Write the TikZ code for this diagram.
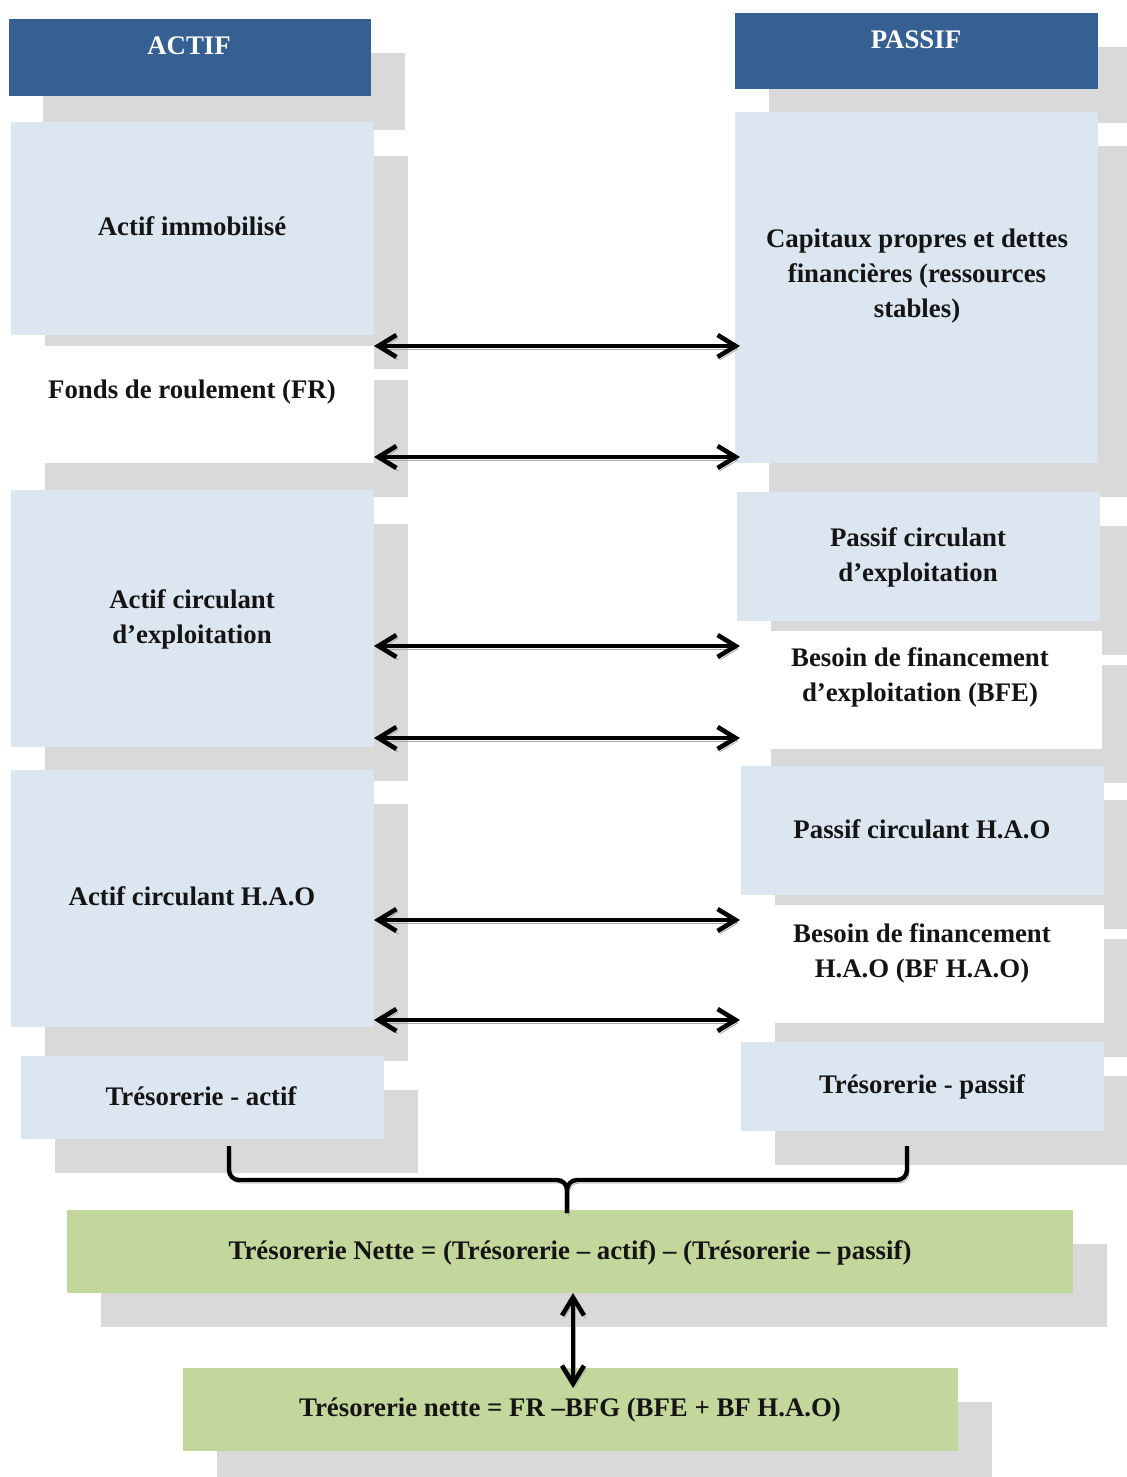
\documentclass[tikz,border=0pt]{standalone}
\usepackage{fontspec}
\setmainfont{Liberation Serif}
\usetikzlibrary{arrows.meta,shadows}
\definecolor{bleufonce}{HTML}{366092}
\definecolor{bleuclair}{HTML}{DCE6F1}
\definecolor{ombre}{HTML}{D9D9D9}
\definecolor{vertclair}{HTML}{C3D69B}
\definecolor{ombretrait}{HTML}{A6A6A6}
\begin{document}
\begin{tikzpicture}[x=0.5pt,y=-0.5pt,
  boite/.style={rectangle,inner sep=0pt,minimum width=181.5pt,
    general shadow={fill=ombre,shadow xshift=17pt,shadow yshift=-17pt}},
  entete/.style={boite,fill=bleufonce},
  bleu/.style={boite,fill=bleuclair},
  blanc/.style={boite,fill=white},
  vert/.style={boite,fill=vertclair},
  texte/.style={font=\fontsize{13.4}{17.5}\selectfont\bfseries,align=center,anchor=base,inner sep=0pt,text=black!92},
  fleche/.style={line width=2.3pt,{Straight Barb[length=9pt,width=11pt]}-{Straight Barb[length=9pt,width=11pt]},
    preaction={draw=ombretrait,transform canvas={xshift=1pt,yshift=-1.5pt}}},
  accolade/.style={line width=2.2pt,rounded corners=5pt,
    preaction={draw=ombretrait,transform canvas={xshift=1pt,yshift=-1.5pt}}}]
  \useasboundingbox (0,0) rectangle (1127,1477);
  % en-tetes
  \node[entete,minimum width=181pt,minimum height=38.5pt] (hactif) at (190,57.5) {};
  \node[entete,minimum height=38pt] (hpassif) at (916.5,51) {};
  \node[texte,text=white] (tactif) at (189,55) {ACTIF};
  \node[texte,text=white] (tpassif) at (916,49) {PASSIF};
  % colonne actif
  \node[bleu,minimum height=106.5pt] (immo) at (192.5,228.5) {};
  \node[blanc,minimum height=58.5pt] (fr) at (192.5,404.5) {};
  \node[bleu,minimum height=128.5pt] (acexp) at (192.5,618.5) {};
  \node[bleu,minimum height=128.5pt] (achao) at (192.5,898.5) {};
  \node[bleu,minimum height=41.5pt] (tresa) at (202.5,1097.5) {};
  \node[texte] (timmo) at (192,235) {Actif immobilisé};
  \node[texte] (tfr) at (192,398) {Fonds de roulement (FR)};
  \node[texte] (tacexp) at (192,643) {Actif circulant\\d’exploitation};
  \node[texte] (tachao) at (192,905) {Actif circulant H.A.O};
  \node[texte] (ttresa) at (201,1105) {Trésorerie - actif};
  % colonne passif
  \node[bleu,minimum height=175.5pt] (capx) at (916.5,287.5) {};
  \node[bleu,minimum height=64.5pt] (pcexp) at (918.5,556.5) {};
  \node[blanc,minimum width=182.5pt,minimum height=59pt] (bfe) at (919.5,690) {};
  \node[bleu,minimum height=64.5pt] (pchao) at (922.5,830.5) {};
  \node[blanc,minimum height=59pt] (bfhao) at (922.5,964) {};
  \node[bleu,minimum height=44.5pt] (tresp) at (922.5,1086.5) {};
  \node[texte] (tcapx) at (917,317) {Capitaux propres et dettes\\financières (ressources\\stables)};
  \node[texte] (tpcexp) at (918,581) {Passif circulant\\d’exploitation};
  \node[texte] (tbfe) at (920,701) {Besoin de financement\\d’exploitation (BFE)};
  \node[texte] (tpchao) at (922,838) {Passif circulant H.A.O};
  \node[texte] (tbfhao) at (922,977) {Besoin de financement\\H.A.O (BF H.A.O)};
  \node[texte] (ttresp) at (922,1093) {Trésorerie - passif};
  % tresorerie nette
  \node[vert,minimum width=503pt,minimum height=41.5pt] (tnette) at (570,1251.5) {};
  \node[vert,minimum width=387.5pt,minimum height=41.5pt] (tnfr) at (570.5,1409.5) {};
  \node[texte] (ttnette) at (570,1259) {Trésorerie Nette = (Trésorerie – actif) – (Trésorerie – passif)};
  \node[texte] (ttnfr) at (570,1416) {Trésorerie nette = FR –BFG (BFE + BF H.A.O)};
  % fleches
  \coordinate (g1) at (374,346); \coordinate (d1) at (740,346);
  \coordinate (g2) at (374,457); \coordinate (d2) at (740,457);
  \coordinate (g3) at (374,646); \coordinate (d3) at (740,646);
  \coordinate (g4) at (374,738); \coordinate (d4) at (740,738);
  \coordinate (g5) at (374,920); \coordinate (d5) at (740,920);
  \coordinate (g6) at (374,1020); \coordinate (d6) at (740,1020);
  \draw[fleche] (g1) -- (d1);
  \draw[fleche] (g2) -- (d2);
  \draw[fleche] (g3) -- (d3);
  \draw[fleche] (g4) -- (d4);
  \draw[fleche] (g5) -- (d5);
  \draw[fleche] (g6) -- (d6);
  \coordinate (v1) at (573,1293); \coordinate (v2) at (573,1388);
  \draw[fleche] (v1) -- (v2);
  % accolade
  \coordinate (a1) at (229,1146); \coordinate (a2) at (907,1146);
  \coordinate (am) at (567,1180); \coordinate (ab) at (567,1213);
  \draw[accolade] (a1) |- (am) -- (ab);
  \draw[accolade] (a2) |- (am) -- (ab);
\end{tikzpicture}
\end{document}
